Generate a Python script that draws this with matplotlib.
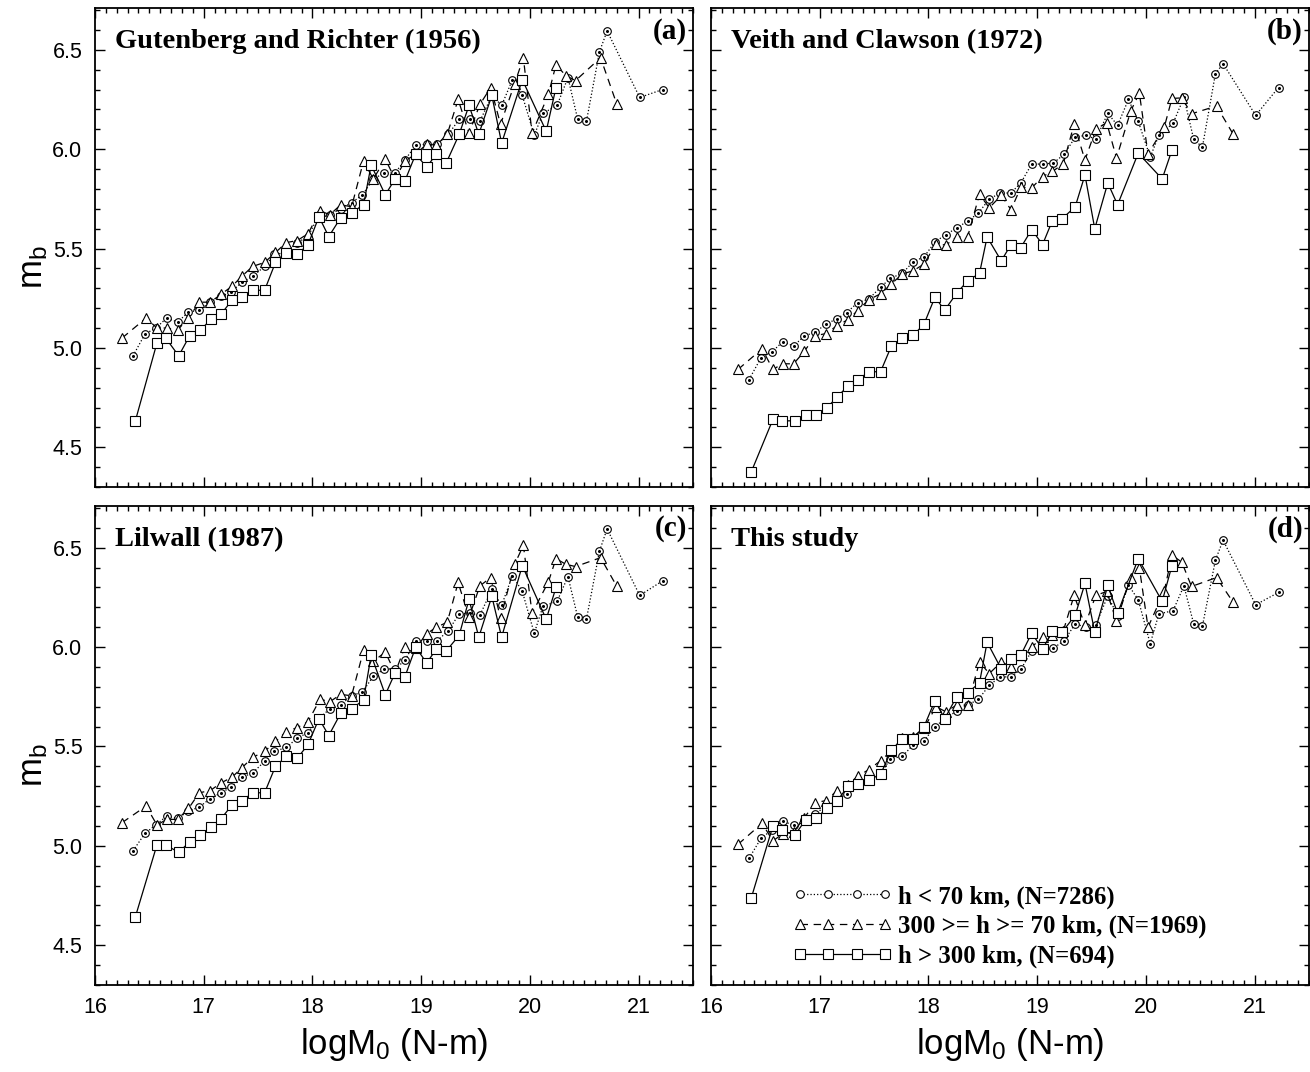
import matplotlib

matplotlib.use("Agg")
import matplotlib.pyplot as plt
from matplotlib.ticker import MultipleLocator

OUTPUT_PATH = "out.png"

PANEL_TITLES = [
    "Gutenberg and Richter (1956)",
    "Veith and Clawson (1972)",
    "Lilwall (1987)",
    "This study",
]
PANEL_TAGS = ["(a)", "(b)", "(c)", "(d)"]
SERIES_LABELS = [
    "h < 70 km, (N=7286)",
    "300 >= h >= 70 km, (N=1969)",
    "h > 300 km, (N=694)",
]

# logM0 bin centres, shared by all four panels
SHALLOW_LOGM0 = [16.35, 16.46, 16.56, 16.66, 16.76, 16.86, 16.96, 17.06, 17.16, 17.25,
                 17.35, 17.45, 17.56, 17.65, 17.76, 17.86, 17.96, 18.06, 18.16, 18.26,
                 18.36, 18.46, 18.56, 18.66, 18.76, 18.85, 18.95, 19.05, 19.15, 19.25,
                 19.35, 19.45, 19.54, 19.65, 19.74, 19.84, 19.93, 20.04, 20.12, 20.25,
                 20.35, 20.44, 20.52, 20.64, 20.71, 21.01, 21.22]
INTER_LOGM0 = [16.25, 16.47, 16.57, 16.66, 16.76, 16.86, 16.96, 17.06, 17.16, 17.26,
               17.35, 17.45, 17.56, 17.66, 17.76, 17.86, 17.96, 18.07, 18.16, 18.26,
               18.36, 18.47, 18.56, 18.67, 18.76, 18.85, 18.95, 19.05, 19.14, 19.24,
               19.34, 19.44, 19.54, 19.64, 19.73, 19.86, 19.94, 20.02, 20.17, 20.24,
               20.33, 20.42, 20.65, 20.80]
DEEP_LOGM0 = [16.37, 16.57, 16.65, 16.77, 16.87, 16.97, 17.07, 17.16, 17.26, 17.35,
              17.45, 17.56, 17.66, 17.76, 17.86, 17.96, 18.06, 18.15, 18.26, 18.36,
              18.47, 18.54, 18.67, 18.76, 18.85, 18.95, 19.05, 19.14, 19.23, 19.35,
              19.44, 19.53, 19.65, 19.74, 19.93, 20.15, 20.24]

# (a) Gutenberg and Richter (1956)
SHALLOW_MB_A = [4.96, 5.07, 5.10, 5.15, 5.13, 5.18, 5.19, 5.23, 5.26, 5.28,
                5.33, 5.36, 5.41, 5.47, 5.48, 5.53, 5.56, 5.67, 5.67, 5.70,
                5.73, 5.77, 5.85, 5.88, 5.88, 5.945, 6.02, 6.025, 6.025, 6.075,
                6.15, 6.15, 6.14, 6.27, 6.22, 6.35, 6.27, 6.07, 6.18, 6.22,
                6.36, 6.15, 6.14, 6.49, 6.595, 6.26, 6.30]
INTER_MB_A = [5.05, 5.15, 5.10, 5.10, 5.09, 5.15, 5.23, 5.23, 5.27, 5.31,
              5.36, 5.41, 5.43, 5.48, 5.53, 5.54, 5.575, 5.69, 5.67, 5.72,
              5.71, 5.94, 5.85, 5.95, 5.85, 5.94, 5.975, 6.025, 6.02, 6.075,
              6.25, 6.08, 6.225, 6.31, 6.125, 6.33, 6.46, 6.08, 6.275, 6.425,
              6.37, 6.345, 6.46, 6.225]
DEEP_MB_A = [4.63, 5.025, 5.05, 4.96, 5.06, 5.09, 5.145, 5.17, 5.24, 5.255,
             5.29, 5.29, 5.43, 5.475, 5.47, 5.52, 5.66, 5.56, 5.655, 5.68,
             5.72, 5.92, 5.77, 5.85, 5.84, 5.975, 5.91, 5.975, 5.93, 6.075,
             6.22, 6.075, 6.27, 6.03, 6.35, 6.09, 6.31]

# (b) Veith and Clawson (1972)
SHALLOW_MB_B = [4.84, 4.95, 4.98, 5.03, 5.01, 5.06, 5.08, 5.12, 5.147, 5.178,
                5.228, 5.245, 5.305, 5.35, 5.375, 5.433, 5.458, 5.533, 5.57, 5.603,
                5.638, 5.678, 5.75, 5.778, 5.78, 5.83, 5.925, 5.925, 5.93, 5.975,
                6.06, 6.07, 6.05, 6.18, 6.12, 6.25, 6.14, 5.96, 6.07, 6.13,
                6.26, 6.05, 6.01, 6.38, 6.43, 6.17, 6.31]
INTER_MB_B = [4.892, 4.995, 4.892, 4.92, 4.92, 4.983, 5.062, 5.072, 5.112, 5.142,
              5.188, 5.242, 5.272, 5.322, 5.372, 5.388, 5.422, 5.525, 5.517, 5.558,
              5.558, 5.772, 5.705, 5.767, 5.695, 5.808, 5.805, 5.862, 5.888, 5.925,
              6.125, 5.945, 6.10, 6.133, 5.955, 6.19, 6.283, 5.975, 6.112, 6.255,
              6.258, 6.178, 6.217, 6.078]
DEEP_MB_B = [4.375, 4.64, 4.633, 4.633, 4.66, 4.66, 4.70, 4.753, 4.808, 4.837,
             4.88, 4.88, 5.01, 5.05, 5.063, 5.12, 5.255, 5.19, 5.275, 5.337,
             5.375, 5.558, 5.438, 5.52, 5.505, 5.595, 5.52, 5.64, 5.65, 5.71,
             5.87, 5.60, 5.83, 5.72, 5.98, 5.85, 5.995]

# (c) Lilwall (1987)
SHALLOW_MB_C = [4.975, 5.063, 5.105, 5.15, 5.138, 5.175, 5.195, 5.238, 5.267, 5.295,
                5.345, 5.367, 5.425, 5.475, 5.495, 5.542, 5.57, 5.64, 5.69, 5.71,
                5.755, 5.775, 5.853, 5.89, 5.89, 5.933, 6.03, 6.03, 6.033, 6.083,
                6.167, 6.17, 6.16, 6.29, 6.21, 6.36, 6.28, 6.07, 6.205, 6.23,
                6.355, 6.15, 6.14, 6.483, 6.595, 6.26, 6.333]
INTER_MB_C = [5.117, 5.20, 5.105, 5.133, 5.133, 5.188, 5.267, 5.278, 5.317, 5.345,
              5.392, 5.445, 5.475, 5.525, 5.575, 5.595, 5.625, 5.738, 5.725, 5.762,
              5.755, 5.983, 5.928, 5.975, 5.87, 6.0, 5.995, 6.067, 6.10, 6.125,
              6.325, 6.15, 6.308, 6.35, 6.145, 6.417, 6.512, 6.17, 6.328, 6.445,
              6.417, 6.405, 6.45, 6.305]
DEEP_MB_C = [4.64, 5.005, 5.005, 4.967, 5.02, 5.055, 5.095, 5.137, 5.205, 5.225,
             5.267, 5.267, 5.40, 5.45, 5.44, 5.51, 5.64, 5.555, 5.667, 5.69,
             5.733, 5.96, 5.76, 5.87, 5.85, 6.0, 5.92, 5.99, 5.98, 6.06,
             6.24, 6.05, 6.255, 6.05, 6.41, 6.14, 6.30]

# (d) This study
SHALLOW_MB_D = [4.937, 5.037, 5.08, 5.125, 5.103, 5.128, 5.162, 5.20, 5.228, 5.262,
                5.308, 5.328, 5.362, 5.438, 5.45, 5.508, 5.528, 5.60, 5.642, 5.678,
                5.708, 5.737, 5.808, 5.85, 5.85, 5.888, 5.98, 5.983, 5.995, 6.033,
                6.117, 6.10, 6.112, 6.258, 6.158, 6.312, 6.238, 6.017, 6.167, 6.183,
                6.308, 6.117, 6.105, 6.438, 6.538, 6.213, 6.275]
INTER_MB_D = [5.008, 5.113, 5.025, 5.06, 5.07, 5.142, 5.217, 5.228, 5.278, 5.308,
              5.35, 5.383, 5.428, 5.478, 5.542, 5.55, 5.592, 5.70, 5.675, 5.708,
              5.708, 5.925, 5.867, 5.925, 5.90, 5.96, 6.0, 6.05, 6.06, 6.08,
              6.26, 6.11, 6.26, 6.28, 6.13, 6.35, 6.40, 6.10, 6.283, 6.462,
              6.428, 6.305, 6.35, 6.228]
DEEP_MB_D = [4.736, 5.10, 5.08, 5.053, 5.13, 5.14, 5.19, 5.225, 5.30, 5.31,
             5.33, 5.36, 5.48, 5.54, 5.54, 5.60, 5.73, 5.64, 5.75, 5.77,
             5.82, 6.025, 5.89, 5.94, 5.96, 6.07, 5.99, 6.08, 6.075, 6.16,
             6.32, 6.075, 6.31, 6.17, 6.445, 6.23, 6.41]

PANEL_DATA = [
    (SHALLOW_MB_A, INTER_MB_A, DEEP_MB_A),
    (SHALLOW_MB_B, INTER_MB_B, DEEP_MB_B),
    (SHALLOW_MB_C, INTER_MB_C, DEEP_MB_C),
    (SHALLOW_MB_D, INTER_MB_D, DEEP_MB_D),
]

SANS = "Liberation Sans"
SERIF = "Liberation Serif"

# figure-fraction boxes [left, bottom, width, height]
AX_W, AX_H = 0.4565, 0.4468
PANEL_BOXES = [
    [0.0725, 0.5457, AX_W, AX_H],
    [0.5427, 0.5457, AX_W, AX_H],
    [0.0725, 0.0812, AX_W, AX_H],
    [0.5427, 0.0812, AX_W, AX_H],
]


def draw_series(ax, x, y, kind, label):
    common = dict(color="black", lw=0.9, mfc="white", mec="black", mew=0.8, label=label)
    if kind == "shallow":
        ax.plot(x, y, ls=":", marker="o", ms=5.5, **common)
        ax.plot(x, y, ls="none", marker="o", ms=1.2, color="black")
    elif kind == "inter":
        ax.plot(x, y, ls=(0, (6, 4.5)), marker="^", ms=6.5, **common)
    else:
        ax.plot(x, y, ls="-", marker="s", ms=6.5, **common)


def style_axes(ax, show_x, show_y):
    ax.set_xlim(16.0, 21.5)
    ax.set_ylim(4.3, 6.71)
    ax.xaxis.set_major_locator(MultipleLocator(1))
    ax.xaxis.set_minor_locator(MultipleLocator(0.1))
    ax.yaxis.set_major_locator(MultipleLocator(0.5))
    ax.yaxis.set_minor_locator(MultipleLocator(0.1))
    ax.tick_params(which="both", direction="in", top=True, right=True, width=1.0)
    ax.tick_params(which="major", length=7)
    ax.tick_params(which="minor", length=3.5)
    ax.tick_params(axis="x", which="major", pad=9, labelsize=15.5, labelbottom=show_x)
    ax.tick_params(axis="y", which="major", pad=9, labelsize=15.5, labelleft=show_y)
    for lab in ax.get_xticklabels() + ax.get_yticklabels():
        lab.set_family(SANS)
    if show_y:
        ax.yaxis.set_major_formatter(plt.FormatStrFormatter("%.1f"))
    for spine in ax.spines.values():
        spine.set_linewidth(1.3)


def main() -> None:
    plt.rcParams["font.family"] = SANS
    plt.rcParams["mathtext.default"] = "regular"

    fig = plt.figure(figsize=(13.1, 10.72), dpi=100)

    for idx, box in enumerate(PANEL_BOXES):
        ax = fig.add_axes(box)
        shallow, inter, deep = PANEL_DATA[idx]
        draw_series(ax, SHALLOW_LOGM0, shallow, "shallow", SERIES_LABELS[0])
        draw_series(ax, INTER_LOGM0, inter, "inter", SERIES_LABELS[1])
        draw_series(ax, DEEP_LOGM0, deep, "deep", SERIES_LABELS[2])

        bottom = idx >= 2
        left = idx % 2 == 0
        style_axes(ax, bottom, left)

        ax.text(0.033, 0.93, PANEL_TITLES[idx], transform=ax.transAxes, ha="left", va="center",
                fontsize=20.5, fontweight="bold", family=SERIF)
        ax.text(0.99, 0.952, PANEL_TAGS[idx], transform=ax.transAxes, ha="right", va="center",
                fontsize=21, fontweight="bold", family=SERIF)

        if left:
            ax.set_ylabel("m$_b$", fontsize=25, family=SANS)
            ax.yaxis.set_label_coords(-0.075, 0.46)
        if bottom:
            ax.set_xlabel("logM$_0$ (N-m)", fontsize=25, family=SANS)
            ax.xaxis.set_label_coords(0.5, -0.085)

        if idx == 3:
            ax.legend(loc="lower left", bbox_to_anchor=(0.136, 0.036), frameon=False,
                      numpoints=4, handlelength=4.05, handletextpad=0.22, labelspacing=0.25,
                      borderpad=0, borderaxespad=0,
                      prop={"family": SERIF, "weight": "bold", "size": 17.8})

    fig.savefig(OUTPUT_PATH, dpi=100)
    plt.close(fig)


if __name__ == "__main__":
    main()
